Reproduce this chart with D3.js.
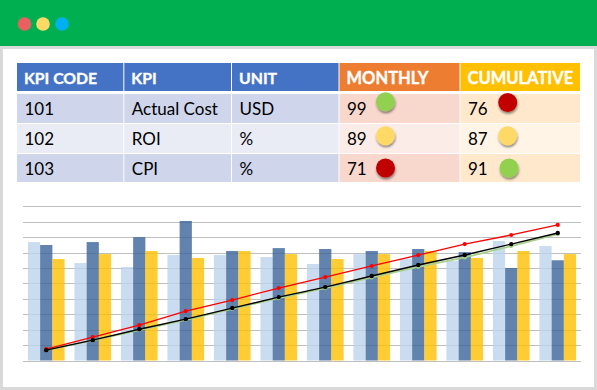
<!DOCTYPE html>
<html><head><meta charset="utf-8">
<script src="https://cdn.jsdelivr.net/npm/d3@7"></script>
<style>html,body{margin:0;padding:0;background:#fff}svg{display:block}text{font-family:Lato,"Open Sans",sans-serif}</style>
</head><body><svg id="c" width="597" height="390"></svg>
<script>
const headers = ["KPI CODE","KPI","UNIT","MONTHLY","CUMULATIVE"];
const codes = ["101","102","103"];
const kpis = ["Actual Cost","ROI","CPI"];
const units = ["USD","%","%"];
const monthly = [99,89,71];
const cumulative = [76,87,91];
const monthlyStatus = ["g","y","r"];
const cumulativeStatus = ["r","y","g"];
const months = d3.range(1,13);
const lightBars = [76.8,63.2,60.6,68.4,68.4,67.1,62.6,69,65.8,64.5,77.5,74.2];
const darkBars = [74.9,76.8,80,90.5,71,72.9,72.3,71,72.3,70.3,60,65];
const yellowBars = [65.8,69,71,66.5,71,69,65.8,69,71,66.5,71,69];
const redLine = [7.4,15.2,22.9,32,39.2,47,54.1,61.3,68.4,75.5,81.4,87.9];
const blackLine = [6.7,13.2,20.3,26.8,34,41.1,47.6,54.8,61.9,68.4,75.5,82.7];
const greenLine = [6.7,13,19.7,26.4,33.5,40.5,47,53.9,60.7,66.8,74.2,82];
const statusColor = {g:"#92d050",y:"#ffd966",r:"#c00000"};

const svg = d3.select("#c");
const defs = svg.append("defs");
const f = defs.append("filter").attr("id","sh").attr("x","-50%").attr("y","-50%").attr("width","200%").attr("height","200%");
f.append("feDropShadow").attr("dx",0.5).attr("dy",2).attr("stdDeviation",1.2).attr("flood-color","#000").attr("flood-opacity",0.45);

// window frame
svg.append("rect").attr("width",597).attr("height",390).attr("fill","#d9d9d9");
svg.append("rect").attr("x",3).attr("y",49).attr("width",591).attr("height",338).attr("fill","#fff");
svg.append("rect").attr("width",597).attr("height",46).attr("fill","#00b050");
const dots = [[24.5,"#e96060"],[43,"#ffd966"],[62,"#00b0f0"]];
svg.selectAll(".wd").data(dots).join("circle").attr("cx",d=>d[0]).attr("cy",24).attr("r",6.8).attr("fill",d=>d[1]);

// table
const colX = [17,124.3,232,339.5,460.5,581];
const rowY = [63,94,124,154,183];
const headFill = ["#4472c4","#4472c4","#4472c4","#ed7d31","#ffc000"];
const bandFill = [
 ["#cfd5ea","#e9ebf5","#cfd5ea"],["#cfd5ea","#e9ebf5","#cfd5ea"],["#cfd5ea","#e9ebf5","#cfd5ea"],
 ["#f8d7cd","#fcece7","#f8d7cd"],["#ffe8cc","#fff4e6","#ffe8cc"]];
const tbl = svg.append("g");
headers.forEach((h,c)=>{
  tbl.append("rect").attr("x",colX[c]).attr("y",63).attr("width",colX[c+1]-colX[c]-1).attr("height",28).attr("fill",headFill[c]);
  tbl.append("text").attr("x",colX[c]+7).attr("y",83.5).attr("fill","#fff").attr("stroke","#fff").attr("stroke-width",0.35)
   .attr("font-weight",700).attr("font-size",c>2?16.5:15.8).text(h);
});
const cols = [codes,kpis,units,monthly,cumulative];
cols.forEach((col,c)=>col.forEach((v,r)=>{
  tbl.append("rect").attr("x",colX[c]).attr("y",rowY[r+1]).attr("width",colX[c+1]-colX[c]-1).attr("height",rowY[r+2]-rowY[r+1]-1).attr("fill",bandFill[c][r]);
  tbl.append("text").attr("x",colX[c]+7.5).attr("y",rowY[r+1]+21).attr("fill","#000").attr("font-size",17).text(v);
}));
const cy = [101.8,135.7,168];
const lights = svg.append("g");
monthlyStatus.forEach((s,i)=>lights.append("circle").attr("cx",385.5).attr("cy",cy[i]).attr("r",9.5).attr("fill",statusColor[s]).attr("filter","url(#sh)"));
cumulativeStatus.forEach((s,i)=>lights.append("circle").attr("cx",i==2?509:507.7).attr("cy",i==0?102.5:cy[i]).attr("r",9.5).attr("fill",statusColor[s]).attr("filter","url(#sh)"));

// chart
const x = d3.scaleBand().domain(months).range([23,581]);
const y = d3.scaleLinear().domain([0,100]).range([360.5,206.3]);
const sub = d3.scaleBand().domain([0,1,2]).range([4.9,41.6]);
const gridG = svg.append("g");
gridG.selectAll("line").data(y.ticks(10)).join("line")
 .attr("x1",23).attr("x2",581).attr("y1",d=>Math.round(y(d))+.5).attr("y2",d=>Math.round(y(d))+.5)
 .attr("stroke","#bfbfbf").attr("stroke-width",1);
[[lightBars,"#bdd4ec"],[darkBars,"#3a6498"],[yellowBars,"#ffc000"]].forEach(([arr,col],k)=>{
  svg.append("g").selectAll("rect").data(arr).join("rect")
   .attr("x",(d,i)=>x(months[i])+sub(k)).attr("width",sub.bandwidth())
   .attr("y",d=>y(d)).attr("height",d=>y(0)-y(d)).attr("fill",col).attr("opacity",.8);
});
const line = d3.line().x((d,i)=>x(months[i])+x.bandwidth()/2).y(d=>y(d));
[[greenLine,"#a9d18e",1.8,2.1],[redLine,"#ff0000",1.3,2.1],[blackLine,"#000",1.4,2.2]].forEach(([arr,col,w,r])=>{
  svg.append("path").datum(arr).attr("d",line).attr("fill","none").attr("stroke",col).attr("stroke-width",w);
  svg.append("g").selectAll("circle").data(arr).join("circle")
   .attr("cx",(d,i)=>x(months[i])+x.bandwidth()/2).attr("cy",d=>y(d)).attr("r",r).attr("fill",col);
});
</script></body></html>
